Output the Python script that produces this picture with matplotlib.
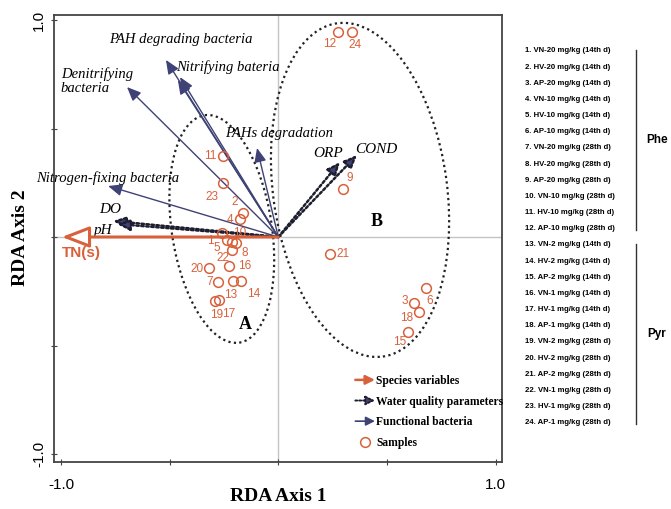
import matplotlib
matplotlib.use("Agg")
import matplotlib.pyplot as plt
from matplotlib.patches import Ellipse, FancyArrowPatch
from matplotlib.lines import Line2D
from matplotlib.legend_handler import HandlerPatch

# sample scores on the first two RDA axes
sample_ids = list(range(1, 25))
sample_x = [-0.236, -0.162, 0.626, -0.176, -0.213, 0.678, -0.276, -0.213, 0.299, -0.259,
            -0.256, 0.276, -0.208, -0.172, 0.595, -0.225, -0.273, 0.647, -0.291, -0.318,
            0.238, -0.195, -0.256, 0.338]
sample_y = [-0.014, 0.112, -0.306, 0.083, -0.023, -0.236, -0.206, -0.060, 0.221, 0.018,
            0.375, 0.946, -0.203, -0.203, -0.439, -0.134, -0.290, -0.347, -0.295, -0.141,
            -0.080, -0.028, 0.250, 0.943]

# species variable
species_name = "TN(s)"
species_x = -0.996
species_y = 0.0

# water quality parameters
water_names = ["DO", "pH", "ORP", "COND"]
water_x = [-0.761, -0.742, 0.284, 0.362]
water_y = [0.074, 0.060, 0.346, 0.378]

# functional bacteria
bact_names = ["Nitrogen-fixing bacteria", "Denitrifying\nbacteria", "PAH degrading bacteria",
              "Nitrifying bateria", "", "PAHs degradation"]
bact_x = [-0.783, -0.696, -0.517, -0.452, -0.462, -0.098]
bact_y = [0.235, 0.691, 0.816, 0.737, 0.723, 0.410]

# sample groups (ellipses)
group_names = ["A", "B"]
group_cx = [-0.26, 0.376]
group_cy = [0.037, 0.217]
group_w = [0.46, 0.80]
group_h = [1.06, 1.55]
group_angle = [8.7, 7.8]

# sample key on the right
sample_key = [
    "1. VN-20 mg/kg (14th d)", "2. HV-20 mg/kg (14th d)", "3. AP-20 mg/kg (14th d)",
    "4. VN-10 mg/kg (14th d)", "5. HV-10 mg/kg (14th d)", "6. AP-10 mg/kg (14th d)",
    "7. VN-20 mg/kg (28th d)", "8. HV-20 mg/kg (28th d)", "9. AP-20 mg/kg (28th d)",
    "10. VN-10 mg/kg (28th d)", "11. HV-10 mg/kg (28th d)", "12. AP-10 mg/kg (28th d)",
    "13. VN-2 mg/kg (14th d)", "14. HV-2 mg/kg (14th d)", "15. AP-2 mg/kg (14th d)",
    "16. VN-1 mg/kg (14th d)", "17. HV-1 mg/kg (14th d)", "18. AP-1 mg/kg (14th d)",
    "19. VN-2 mg/kg (28th d)", "20. HV-2 mg/kg (28th d)", "21. AP-2 mg/kg (28th d)",
    "22. VN-1 mg/kg (28th d)", "23. HV-1 mg/kg (28th d)", "24. AP-1 mg/kg (28th d)",
]
key_groups = ["Phe", "Pyr"]

RED = "#d8613c"
NAVY = "#3f4275"
SERIF = "Liberation Serif"
SANS = "Liberation Sans"

# label offsets for the sample numbers (points)
num_offset = {1: (-12, -1), 2: (-6, 8), 3: (-7, 2), 4: (-7, -1), 5: (-11, -4), 6: (3, -9),
              7: (-6, 0), 8: (9, -2), 9: (5, 8), 10: (13, 0), 11: (-9, 0), 12: (-6, -9),
              13: (-2, -10), 14: (9, -9), 15: (-6, -7), 16: (11, 0), 17: (7, -10),
              18: (-9, -4), 19: (1, -10), 20: (-9, -1), 21: (9, 0), 22: (-9, -11),
              23: (-8, -10), 24: (2, -9)}

# text positions for the vector names (data units)
bact_label_pos = [(-0.786, 0.272), (-1.0, 0.717), (-0.447, 0.908), (-0.234, 0.785),
                  None, (0.003, 0.479)]
water_label_pos = [(-0.774, 0.129), (-0.806, 0.029), (0.231, 0.387), (0.452, 0.401)]

fig = plt.figure(figsize=(6.71, 5.09), dpi=100)
ax = fig.add_axes([0.0812, 0.0929, 0.6663, 0.8786])
ax.set_xlim(-1.0297, 1.0272)
ax.set_ylim(-1.0355, 1.0253)

ax.axhline(0, color="#c4c4c4", lw=1, zorder=0)
ax.axvline(0, color="#c4c4c4", lw=1, zorder=0)

for name, cx, cy, w, h, a in zip(group_names, group_cx, group_cy, group_w, group_h, group_angle):
    ax.add_patch(Ellipse((cx, cy), w, h, angle=a, fill=False, ls=(0, (1, 1.5)),
                         lw=1.6, ec="#222222", zorder=1))
ax.text(-0.153, -0.402, "A", fontsize=13, fontweight="bold", family=SERIF, ha="center", va="center")
ax.text(0.452, 0.070, "B", fontsize=13, fontweight="bold", family=SERIF, ha="center", va="center")

# functional bacteria vectors
for name, x, y, pos in zip(bact_names, bact_x, bact_y, bact_label_pos):
    ax.annotate("", xy=(x, y), xytext=(0, 0),
                arrowprops=dict(arrowstyle="-|>,head_length=0.7,head_width=0.3", color=NAVY,
                                lw=1.0, shrinkA=0, shrinkB=0, mutation_scale=12), zorder=2)
    if name:
        ha = "left" if "\n" in name else "center"
        ax.text(pos[0], pos[1], name, fontsize=10.5, style="italic", family=SERIF,
                ha=ha, va="center", linespacing=1.1, zorder=3)

# water quality vectors
for name, x, y, pos in zip(water_names, water_x, water_y, water_label_pos):
    ax.annotate("", xy=(x, y), xytext=(0, 0),
                arrowprops=dict(arrowstyle="-|>,head_length=0.7,head_width=0.3", fc=NAVY,
                                ec="#1e1e2e", lw=1.8, ls=(0, (1, 1)), shrinkA=0, shrinkB=0,
                                mutation_scale=11), zorder=2)
    ax.text(pos[0], pos[1], name, fontsize=11, style="italic", family=SERIF,
            ha="center", va="center", zorder=3)

# species vector
ax.annotate("", xy=(species_x, species_y), xytext=(0, 0),
            arrowprops=dict(arrowstyle="-|>,head_length=1.3,head_width=0.5", fc="white",
                            ec=RED, lw=2.2, shrinkA=0, shrinkB=0, mutation_scale=13), zorder=3)
ax.text(-0.905, -0.072, species_name, fontsize=11, fontweight="bold", family=SANS,
        color=RED, ha="center", va="center")

# samples
ax.plot(sample_x, sample_y, "o", ms=7, mfc="none", mec=RED, mew=1.1, zorder=4)
for sid, x, y in zip(sample_ids, sample_x, sample_y):
    dx, dy = num_offset[sid]
    ax.annotate(str(sid), (x, y), xytext=(dx, dy), textcoords="offset points",
                fontsize=8.5, color=RED, family=SANS, ha="center", va="center")

ax.set_xticks([-1, -0.5, 0, 0.5, 1])
ax.set_xticklabels(["-1.0", "", "", "", "1.0"])
ax.set_yticks([-1, -0.5, 0, 0.5, 1])
ax.set_yticklabels(["-1.0", "", "", "", "1.0"], rotation=90, va="center")
ax.tick_params(direction="inout", length=4, width=0.8, color="#444444", labelsize=11)
ax.tick_params(axis="x", pad=10)
ax.tick_params(axis="y", pad=4)
for lab in ax.get_xticklabels() + ax.get_yticklabels():
    lab.set_family(SANS)
for s in ax.spines.values():
    s.set_color("#444444")
    s.set_linewidth(1.3)

ax.set_xlabel("RDA Axis 1", fontsize=14, fontweight="bold", family=SERIF)
ax.xaxis.set_label_coords(0.5, -0.058)
ax.set_ylabel("RDA Axis 2", fontsize=14, fontweight="bold", family=SERIF, labelpad=2)


# legend with arrow handles
def arrow_handle(legend, orig_handle, xdescent, ydescent, width, height, fontsize):
    return FancyArrowPatch((-xdescent, height / 2 - ydescent),
                           (width - xdescent, height / 2 - ydescent),
                           arrowstyle=orig_handle.get_arrowstyle(), mutation_scale=9,
                           shrinkA=0, shrinkB=0)


h_species = FancyArrowPatch((0, 0), (1, 1), arrowstyle="-|>,head_length=0.6,head_width=0.3",
                            ec=RED, fc=RED, lw=1.8)
h_water = FancyArrowPatch((0, 0), (1, 1), arrowstyle="-|>,head_length=0.6,head_width=0.3",
                          ec="#1e1e2e", fc=NAVY, lw=1.4, ls=(0, (1, 1)))
h_bact = FancyArrowPatch((0, 0), (1, 1), arrowstyle="-|>,head_length=0.6,head_width=0.3",
                         ec=NAVY, fc=NAVY, lw=1.2)
h_samp = Line2D([], [], marker="o", ls="", ms=7, mfc="none", mec=RED, mew=1.1)
ax.legend([h_species, h_water, h_bact, h_samp],
          ["Species variables", "Water quality parameters", "Functional bacteria", "Samples"],
          handler_map={FancyArrowPatch: HandlerPatch(patch_func=arrow_handle)},
          loc="upper left", bbox_to_anchor=(0.66, 0.207), frameon=False, borderpad=0,
          handlelength=1.7, handletextpad=0.1, labelspacing=0.75,
          prop=dict(family=SERIF, weight="bold", size=8.3))

# sample key
key_top = 51
key_step = (422.7 - 51) / 23
for i, txt in enumerate(sample_key):
    py = key_top + i * key_step
    fig.text(525 / 671, 1 - py / 509, txt, fontsize=5.6, fontweight="bold", family=SANS,
             ha="left", va="center")
for j, grp in enumerate(key_groups):
    y0 = 1 - (key_top + 12 * j * key_step) / 509
    y1 = 1 - (key_top + (12 * j + 11) * key_step) / 509
    fig.add_artist(Line2D([636 / 671, 636 / 671], [y0 + 0.002, y1 - 0.002],
                          transform=fig.transFigure, color="#333333", lw=1))
    fig.text(657 / 671, (y0 + y1) / 2, grp, fontsize=8.5, fontweight="bold", family=SANS,
             ha="center", va="center")

fig.savefig("out.png", dpi=100)
